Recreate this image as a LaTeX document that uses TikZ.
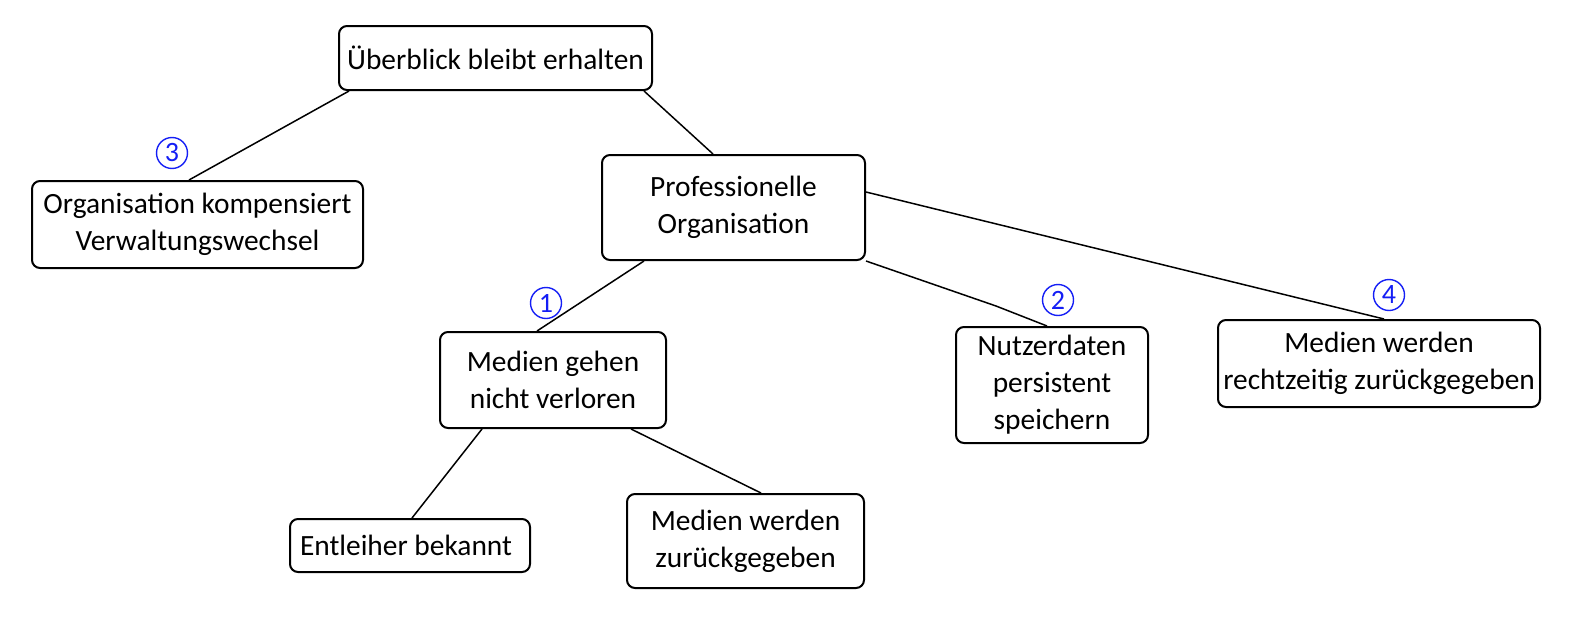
\documentclass[tikz,border=0pt]{standalone}
\usepackage{fontspec}
\setmainfont{Carlito}
\usetikzlibrary{calc}
\definecolor{numblue}{RGB}{20,30,245}
\begin{document}
\begin{tikzpicture}[x=0.5pt,y=-0.5pt,
  box/.style={draw,line width=1pt,rounded corners=4pt,align=center,inner sep=0pt,
    font=\fontsize{14.7}{18.5}\selectfont},
  conn/.style={line width=0.75pt},
  num/.style={draw=numblue,text=numblue,circle,line width=0.7pt,inner sep=0pt,
    minimum size=15.5pt,font=\fontsize{14}{14}\selectfont}]
\useasboundingbox (0,0) rectangle (1585,637);
\node[box,minimum width=156.5pt,minimum height=32pt] (ueb) at (495.5,58) {Überblick bleibt erhalten};
\node[box,minimum width=165.5pt,minimum height=43.5pt] (org) at (197.5,224.5) {Organisation kompensiert\\Verwaltungswechsel};
\node[box,minimum width=131.5pt,minimum height=52.5pt] (prof) at (733.5,207.5) {Professionelle\\Organisation};
\node[box,minimum width=113pt,minimum height=48pt] (med) at (553,380) {Medien gehen\\nicht verloren};
\node[box,minimum width=96pt,minimum height=58pt] (nutz) at (1052,385) {Nutzerdaten\\persistent\\speichern};
\node[box,minimum width=161pt,minimum height=43.5pt] (rz) at (1379,363.5) {Medien werden\\rechtzeitig zurückgegeben};
\node[box,minimum width=120pt,minimum height=26.5pt] (ent) at (410,545.5) {Entleiher bekannt\hspace*{4pt}};
\node[box,minimum width=118.5pt,minimum height=47pt] (zur) at (745.5,541) {Medien werden\\zurückgegeben};

\draw[conn] ($(ueb.south west)+(11,0)$) -- ($(org.north west)+(158,0)$);
\draw[conn] ($(ueb.south east)+(-9,0)$) -- ($(prof.north west)+(112,0)$);
\draw[conn] ($(prof.south west)+(43,0)$) -- ($(med.north west)+(98,0)$);
\draw[conn] (prof.south east) -- ($(prof.south east)+(130,45)$) -- ($(nutz.north west)+(92,0)$);
\draw[conn] ($(prof.north east)+(0,38)$) -- ($(rz.north west)+(167,0)$);
\draw[conn] ($(med.south west)+(43,0)$) -- ($(ent.north west)+(123,0)$);
\draw[conn] ($(med.south west)+(192,0)$) -- ($(zur.north west)+(135,0)$);

\node[num] (n1) at (546,303) {1};
\node[num] (n2) at (1058,300) {2};
\node[num] (n3) at (172,153) {3};
\node[num] (n4) at (1389,295) {4};
\end{tikzpicture}
\end{document}
